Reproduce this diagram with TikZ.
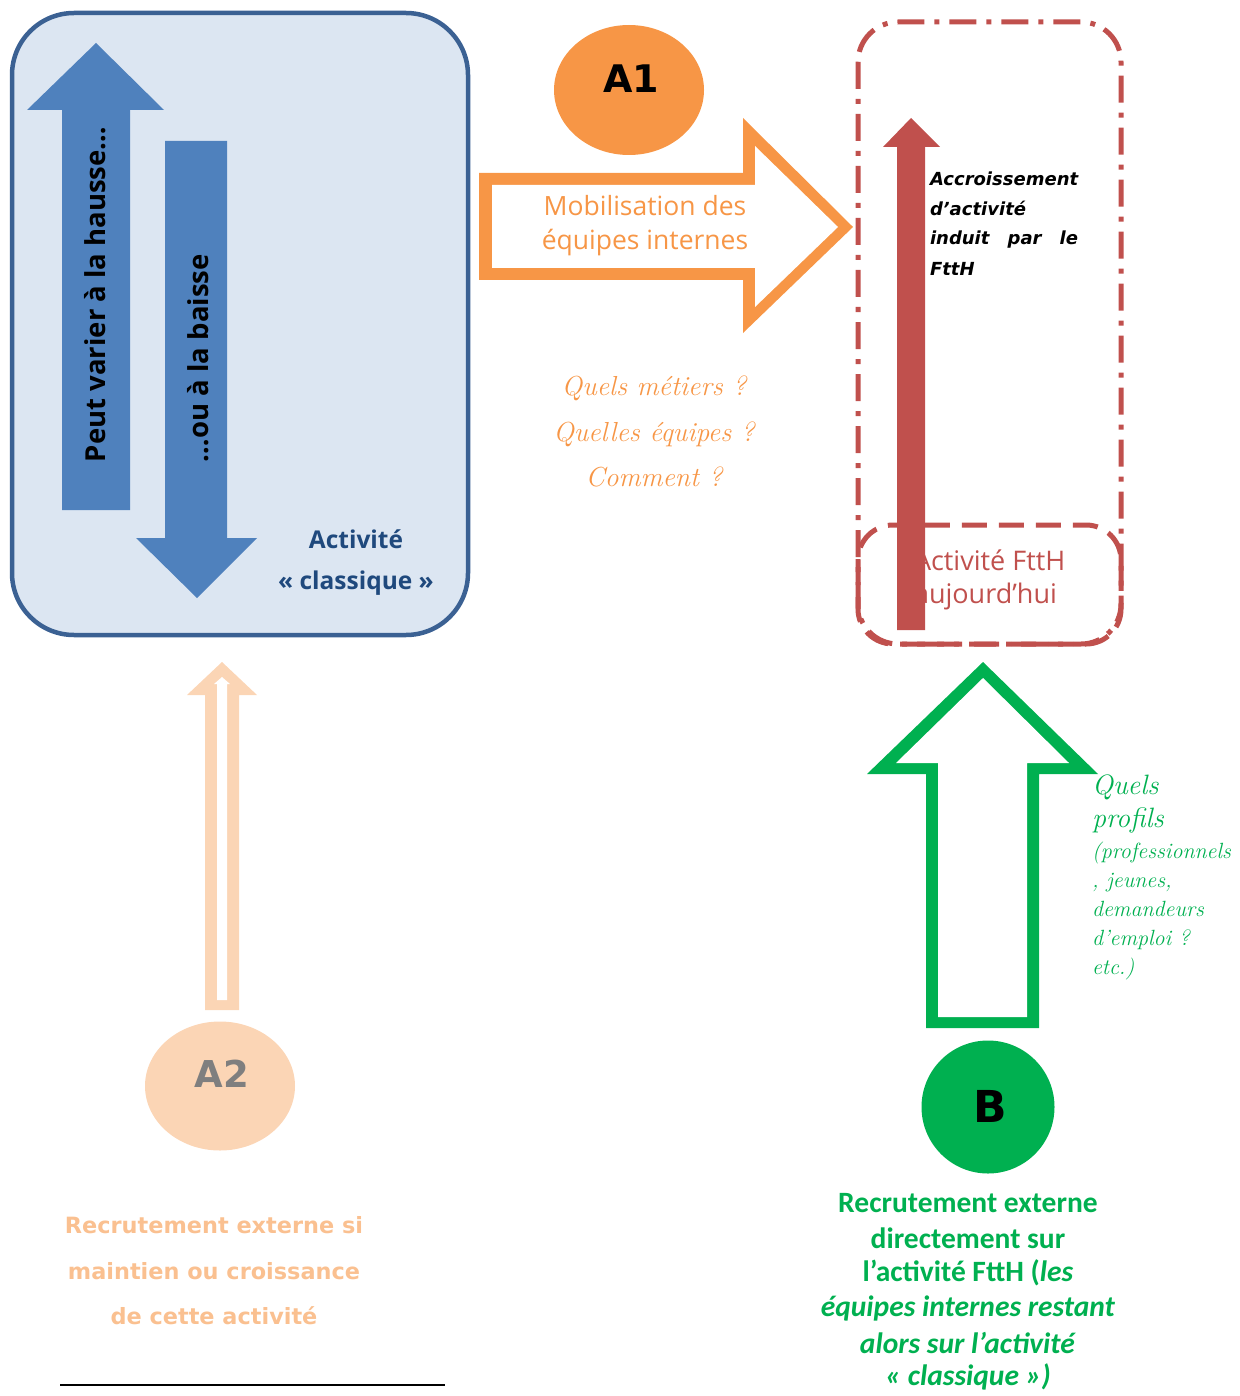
\documentclass[tikz,border=0pt]{standalone}
\usepackage{fontspec}
\usetikzlibrary{shapes.geometric}
\newfontfamily\dvs{DejaVu Sans}
\newfontfamily\osans{Open Sans}
\newfontfamily\carl{Carlito}
\definecolor{boxfill}{HTML}{DCE6F2}
\definecolor{boxline}{HTML}{3B6193}
\definecolor{bluearr}{HTML}{4F81BD}
\definecolor{darkblue}{HTML}{1F497D}
\definecolor{orng}{HTML}{F79646}
\definecolor{redd}{HTML}{C0504D}
\definecolor{grn}{HTML}{00B050}
\definecolor{peach}{HTML}{FBD5B5}
\definecolor{peachtxt}{HTML}{FAC090}
\definecolor{graytxt}{HTML}{7F7F7F}
\tikzset{
  txt/.style={inner sep=0pt, outer sep=0pt},
}
\begin{document}
\begin{tikzpicture}[x=1pt,y=-1pt]
\useasboundingbox (0,0) rectangle (1239,1396);
% ---------- blue box ----------
\draw[boxline, fill=boxfill, line width=4.5pt, rounded corners=62pt] (12,13) rectangle (468,635);
\fill[bluearr] (62,510) -- (62,110) -- (27,110) -- (96,43) -- (164,110) -- (130,110) -- (130,510) -- cycle;
\fill[bluearr] (165,141) -- (227,141) -- (227,538) -- (257,538) -- (197,598) -- (136,538) -- (165,538) -- cycle;
\node[txt, rotate=90, anchor=west, font=\osans\bfseries\fontsize{27.5}{27.5}\selectfont] (hausse) at (95,462) {Peut varier à la hausse…};
\node[txt, rotate=90, anchor=west, font=\osans\bfseries\fontsize{27.5}{27.5}\selectfont] (baisse) at (198,462) {…ou à la baisse};
\node[txt, darkblue, font=\osans\bfseries\fontsize{24.5}{24.5}\selectfont] (act1) at (356,539) {Activité};
\node[txt, darkblue, font=\osans\bfseries\fontsize{24.5}{24.5}\selectfont] (act2) at (356,583) {« classique »};
% ---------- A1 ----------
\node[ellipse, fill=orng, minimum width=150pt, minimum height=130pt, inner sep=0pt] (A1) at (629,90) {};
\node[txt, font=\dvs\bfseries\fontsize{38}{38}\selectfont] (A1t) at (631,79) {A1};
\fill[orng] (479,173) -- (743,173) -- (743,118) -- (853,227) -- (743,333) -- (743,280) -- (479,280) -- cycle;
\fill[white] (492,185) -- (755,185) -- (755,146) -- (838,227) -- (755,307) -- (755,268) -- (492,268) -- cycle;
\node[txt, orng, font=\osans\fontsize{26.5}{26.5}\selectfont] (mob1) at (645,206) {Mobilisation des};
\node[txt, orng, font=\osans\fontsize{26.5}{26.5}\selectfont] (mob2) at (645,243) {équipes internes};
\node[txt, orng, font=\itshape\fontsize{27.5}{27.5}\selectfont] (q1) at (654,388) {Quels métiers ?};
\node[txt, orng, font=\itshape\fontsize{27.5}{27.5}\selectfont] (q2) at (654,434) {Quelles équipes ?};
\node[txt, orng, font=\itshape\fontsize{27.5}{27.5}\selectfont] (q3) at (654,477) {Comment ?};
% ---------- red boxes ----------
\node[txt, anchor=west, redd, font=\osans\fontsize{27}{27}\selectfont] (fth1) at (914,560) {Activité FttH};
\node[txt, anchor=west, redd, font=\osans\fontsize{27}{27}\selectfont] (fth2) at (914,596) {aujourd’hui};
\draw[redd, line width=5pt, rounded corners=40pt, dash pattern=on 27pt off 10pt on 5pt off 10pt] (858,22) rectangle (1121,644);
\draw[redd, line width=5pt, rounded corners=35pt, dash pattern=on 25pt off 12pt] (858,525) rectangle (1121,644);
\fill[redd] (897,630) -- (897,147) -- (883,147) -- (911,118) -- (940,147) -- (925,147) -- (925,630) -- cycle;
\begin{scope}[font=\dvs\bfseries\itshape\fontsize{18}{18}\selectfont]
\node[txt, anchor=base west] (acc1) at (930,186) {Accroissement};
\node[txt, anchor=base west] (acc2) at (930,216) {d’activité};
\node[txt, anchor=base west] (acc3) at (930,245) {\makebox[148pt][s]{induit par le}};
\node[txt, anchor=base west] (acc4) at (930,276) {FttH};
\end{scope}
% ---------- green ----------
\fill[grn] (926,1028) -- (926,774) -- (867,774) -- (983,662) -- (1098,774) -- (1039,774) -- (1039,1028) -- cycle;
\fill[white] (938,1017) -- (938,763) -- (896,763) -- (983,678) -- (1069,763) -- (1027,763) -- (1027,1017) -- cycle;
\begin{scope}[grn]
\node[txt, anchor=base west, font=\itshape\fontsize{28}{28}\selectfont] (p1) at (1092,794) {Quels};
\node[txt, anchor=base west, font=\itshape\fontsize{28}{28}\selectfont] (p2) at (1092,827) {profils};
\node[txt, anchor=base west, font=\itshape\fontsize{22}{22}\selectfont] (p3) at (1092,858) {(professionnels};
\node[txt, anchor=base west, font=\itshape\fontsize{22}{22}\selectfont] (p4) at (1092,887) {, jeunes,};
\node[txt, anchor=base west, font=\itshape\fontsize{22}{22}\selectfont] (p5) at (1092,916) {demandeurs};
\node[txt, anchor=base west, font=\itshape\fontsize{22}{22}\selectfont] (p6) at (1092,945) {d’emploi ?};
\node[txt, anchor=base west, font=\itshape\fontsize{22}{22}\selectfont] (p7) at (1092,974) {etc.)};
\end{scope}
\node[circle, fill=grn, minimum size=133pt, inner sep=0pt] (B) at (988,1107) {};
\node[txt, font=\dvs\bfseries\fontsize{44}{44}\selectfont] (Bt) at (990,1106) {B};
\begin{scope}[grn, font=\carl\bfseries\fontsize{29.5}{29.5}\selectfont]
\node[txt] (b1) at (968,1203) {Recrutement externe};
\node[txt] (b2) at (968,1238) {directement sur};
\node[txt] (b3) at (968,1273) {l’activité FttH (\textit{les}};
\node[txt] (b4) at (968,1308) {\textit{équipes internes restant}};
\node[txt] (b5) at (968,1343) {\textit{alors sur l’activité}};
\node[txt] (b6) at (968,1377) {\textit{« classique »)}};
\end{scope}
% ---------- A2 ----------
\fill[peach] (205,1010) -- (205,695) -- (187,695) -- (222,662) -- (257,695) -- (239,695) -- (239,1010) -- cycle;
\fill[white] (217,1000) -- (217,684) -- (214,684) -- (222,677) -- (230,684) -- (227,684) -- (227,1000) -- cycle;
\node[ellipse, fill=peach, minimum width=150pt, minimum height=129pt, inner sep=0pt] (A2) at (220,1086) {};
\node[txt, graytxt, font=\dvs\bfseries\fontsize{37}{37}\selectfont] (A2t) at (222,1074) {A2};
\begin{scope}[peachtxt, font=\dvs\bfseries\fontsize{22.4}{22.4}\selectfont]
\node[txt] (r1) at (214,1225) {Recrutement externe si};
\node[txt] (r2) at (214,1271) {maintien ou croissance};
\node[txt] (r3) at (214,1316) {de cette activité};
\end{scope}
\coordinate (l1) at (60,1385);
\coordinate (l2) at (445,1385);
\draw[line width=2pt] (l1) -- (l2);
\end{tikzpicture}
\end{document}
